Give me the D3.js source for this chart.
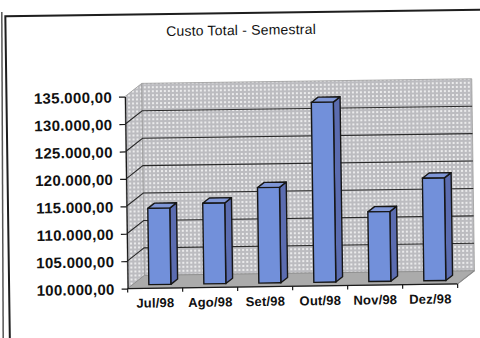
<!DOCTYPE html>
<html>
<head>
<meta charset="utf-8">
<script src="https://cdn.jsdelivr.net/npm/d3@7"></script>
<style>
  html, body { margin: 0; padding: 0; background: #ffffff; }
  svg { display: block; }
</style>
</head>
<body>
<script>
// ---- data ----
const categories = ["Jul/98", "Ago/98", "Set/98", "Out/98", "Nov/98", "Dez/98"];
const custoTotal = [113900, 114700, 117400, 132800, 112700, 118700];
const yTickValues = [100000, 105000, 110000, 115000, 120000, 125000, 130000, 135000];
const yTickLabels = ["100.000,00", "105.000,00", "110.000,00", "115.000,00",
                     "120.000,00", "125.000,00", "130.000,00", "135.000,00"];
const chartTitle = "Custo Total - Semestral";

// ---- layout ----
const W = 480, H = 338;
const x0 = 126, x1 = 456, yB = 287, yT = 95;
const DX = 17, DY = -13;          // depth offset of walls
const f0 = 0.28, f1 = 0.68;       // bar depth placement

const svg = d3.select("body").append("svg").attr("width", W).attr("height", H);

const defs = svg.append("defs");
const pat = defs.append("pattern").attr("id", "dots").attr("patternUnits", "userSpaceOnUse")
  .attr("width", 4).attr("height", 4);
pat.append("rect").attr("width", 4).attr("height", 4).attr("fill", "#bcbcc0");
pat.append("circle").attr("cx", 2).attr("cy", 2).attr("r", 0.95).attr("fill", "#ffffff");

// outer page line
svg.append("line").attr("x1", 1.8).attr("y1", 12).attr("x2", 3.2).attr("y2", H)
  .attr("stroke", "#555").attr("stroke-width", 1.5);

const g = svg.append("g").attr("transform", "rotate(-0.8, 240, 170)");

// frame
g.append("rect").attr("x", 7.5).attr("y", 13).attr("width", 490).attr("height", 360)
  .attr("fill", "none").attr("stroke", "#1e1e1e").attr("stroke-width", 2);

// title
g.append("text").attr("x", 243).attr("y", 35).attr("text-anchor", "middle")
  .attr("font-family", "Liberation Sans, Arial, sans-serif").attr("font-size", 14)
  .attr("letter-spacing", 0.2).attr("fill", "#111").text(chartTitle);

const x = d3.scaleBand().domain(categories).range([x0, x1]).paddingInner(0.6).paddingOuter(0.3);
const y = d3.scaleLinear().domain([100000, 135000]).range([yB, yT]);

// walls
g.append("polygon")
  .attr("points", [[x0, yT], [x0 + DX, yT + DY], [x0 + DX, yB + DY], [x0, yB]].join(" "))
  .attr("fill", "url(#dots)").attr("stroke", "#9a9a9a").attr("stroke-width", 0.8);
g.append("rect").attr("x", x0 + DX).attr("y", yT + DY).attr("width", x1 - x0).attr("height", yB - yT)
  .attr("fill", "url(#dots)").attr("stroke", "#9a9a9a").attr("stroke-width", 0.8);
// floor
g.append("polygon")
  .attr("points", [[x0, yB], [x1, yB], [x1 + DX, yB + DY], [x0 + DX, yB + DY]].join(" "))
  .attr("fill", "#ababab").attr("stroke", "#8a8a8a").attr("stroke-width", 0.8);

// gridlines
const grid = yTickValues.filter(v => v > 100000 && v < 135000);
g.append("g").selectAll("path").data(grid).join("path")
  .attr("d", v => `M${x0},${y(v)}L${x0 + DX},${y(v) + DY}L${x1 + DX},${y(v) + DY}`)
  .attr("fill", "none").attr("stroke", "#2a2a2a").attr("stroke-width", 1.1);

// bars
const bw = x.bandwidth();
const bdx = (f1 - f0) * DX, bdy = (f1 - f0) * DY;
const bars = g.append("g").selectAll("g").data(categories.map((c, i) => ({ c, v: custoTotal[i] })))
  .join("g");
bars.each(function (d) {
  const s = d3.select(this);
  const bx = x(d.c) + f0 * DX;
  const bot = y(100000) + f0 * DY;
  const top = y(d.v) + f0 * DY;
  s.append("polygon")
    .attr("points", [[bx + bw, top], [bx + bw + bdx, top + bdy], [bx + bw + bdx, bot + bdy], [bx + bw, bot]].join(" "))
    .attr("fill", "#5b6cb0").attr("stroke", "#161616").attr("stroke-width", 1.4).attr("stroke-linejoin", "round");
  s.append("polygon")
    .attr("points", [[bx, top], [bx + bdx, top + bdy], [bx + bw + bdx, top + bdy], [bx + bw, top]].join(" "))
    .attr("fill", "#7f96d6").attr("stroke", "#161616").attr("stroke-width", 1.4).attr("stroke-linejoin", "round");
  s.append("rect").attr("x", bx).attr("y", top).attr("width", bw).attr("height", bot - top)
    .attr("fill", "#7290da").attr("stroke", "#161616").attr("stroke-width", 1.4);
});

// y axis
const yAxis = g.append("g").attr("transform", `translate(${x0},0)`)
  .call(d3.axisLeft(y).tickValues(yTickValues).tickSize(6).tickSizeOuter(0).tickPadding(7)
    .tickFormat((d, i) => yTickLabels[i]));
yAxis.selectAll("path, line").attr("stroke", "#1a1a1a").attr("stroke-width", 1.2);
yAxis.selectAll("text").attr("font-family", "Liberation Sans, Arial, sans-serif")
  .attr("font-size", 15).attr("font-weight", "bold").attr("letter-spacing", 0.3)
  .attr("fill", "#111").attr("dy", "0.36em");

// x axis line + boundary ticks
g.append("line").attr("x1", x0).attr("y1", yB).attr("x2", x1).attr("y2", yB)
  .attr("stroke", "#1a1a1a").attr("stroke-width", 1.2);
g.append("line").attr("x1", x1).attr("y1", yB).attr("x2", x1 + DX).attr("y2", yB + DY)
  .attr("stroke", "#8a8a8a").attr("stroke-width", 1);
const bounds = d3.range(categories.length + 1).map(i => x0 + i * x.step());
g.append("g").selectAll("line").data(bounds).join("line")
  .attr("x1", d => d).attr("x2", d => d).attr("y1", yB).attr("y2", yB + 4)
  .attr("stroke", "#1a1a1a").attr("stroke-width", 1.2);

// category labels
const xAxis = g.append("g").attr("transform", `translate(0,${yB})`)
  .call(d3.axisBottom(x).tickSize(0).tickPadding(10));
xAxis.select(".domain").remove();
xAxis.selectAll("text").attr("font-family", "Liberation Sans, Arial, sans-serif")
  .attr("font-size", 13).attr("font-weight", "bold").attr("letter-spacing", 0.2).attr("fill", "#111");
</script>
</body>
</html>
